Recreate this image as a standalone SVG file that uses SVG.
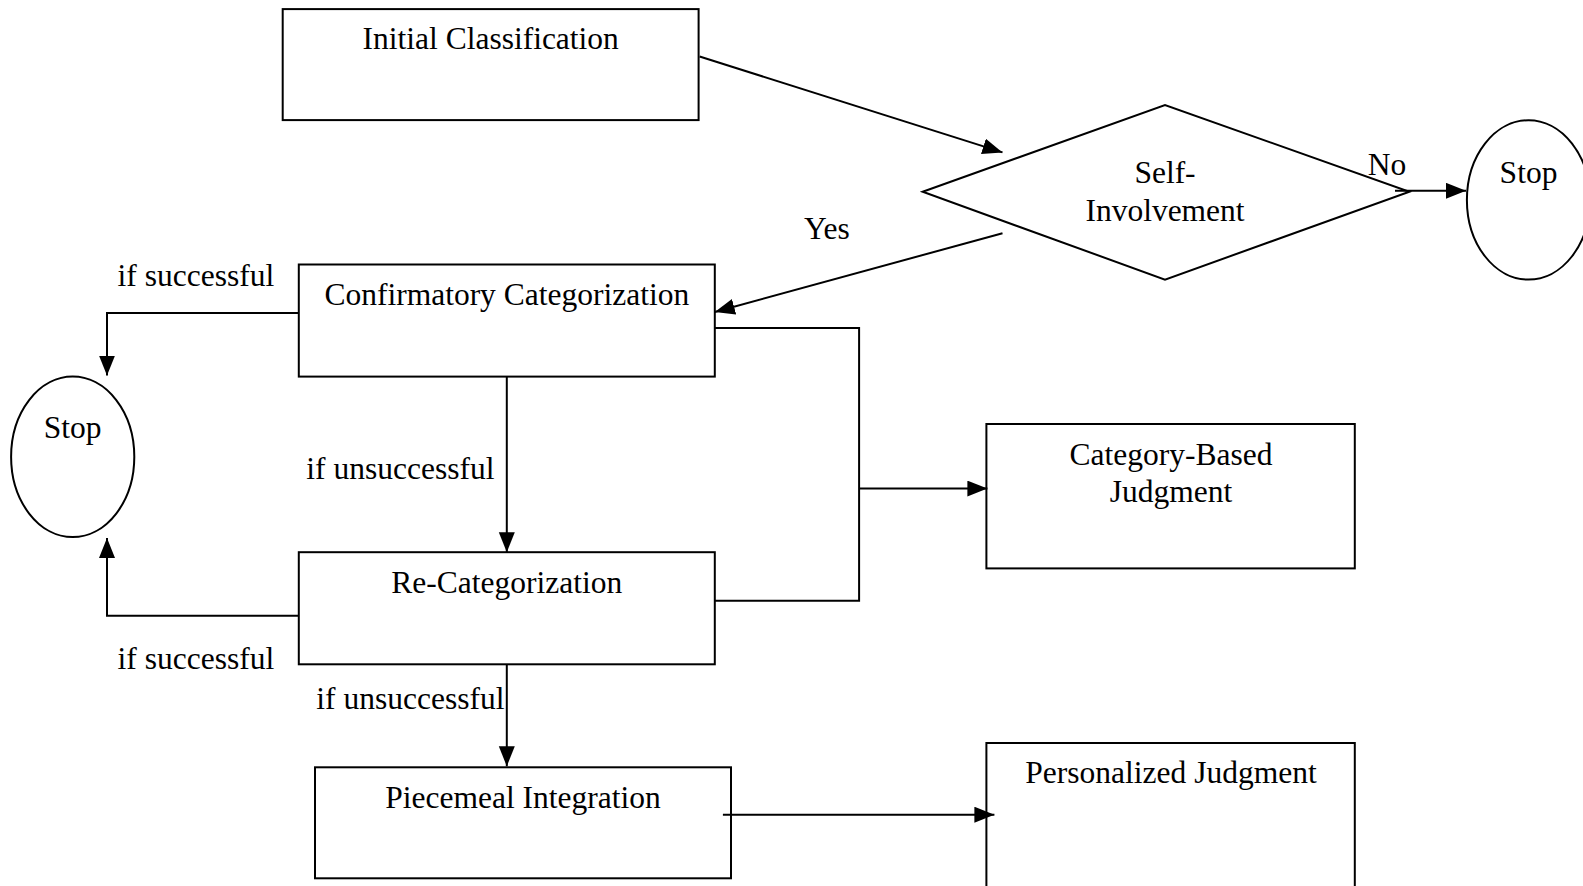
<svg xmlns="http://www.w3.org/2000/svg" width="1583" height="886" viewBox="0 0 1583 886">
<style>
.box{fill:#fff;stroke:#000;stroke-width:2}
.t{font-family:"Liberation Serif","Times New Roman",serif;font-size:31.5px;fill:#000;text-anchor:middle}
.c{fill:none;stroke:#000;stroke-width:2}
</style>
<defs>
<marker id="ah" markerUnits="userSpaceOnUse" markerWidth="21" markerHeight="17" refX="20" refY="8" orient="auto">
<path d="M0,0 L20,8 L0,16 z" fill="#000"/>
</marker>
</defs>
<rect width="1583" height="886" fill="#fff"/>
<g id="initial">
<rect class="box" x="282.7" y="9.1" width="415.9" height="111"/>
<text class="t" x="490.7" y="48.5">Initial Classification</text>
</g>
<g id="self-involvement">
<polygon class="box" points="922.7,191.8 1165,105 1409.4,191.8 1165,279.6"/>
<text class="t" x="1165" y="182.7">Self-</text>
<text class="t" x="1165" y="221">Involvement</text>
</g>
<g id="stop-right">
<ellipse class="box" cx="1528.5" cy="199.9" rx="61.6" ry="79.7"/>
<text class="t" x="1528.5" y="182.7">Stop</text>
</g>
<g id="confirmatory">
<rect class="box" x="298.8" y="264.5" width="416" height="112.1"/>
<text class="t" x="506.8" y="304.9">Confirmatory Categorization</text>
</g>
<g id="stop-left">
<ellipse class="box" cx="72.7" cy="456.8" rx="61.6" ry="80.3"/>
<text class="t" x="72.7" y="438">Stop</text>
</g>
<g id="recategorization">
<rect class="box" x="298.8" y="552.2" width="416" height="112.1"/>
<text class="t" x="506.8" y="592.6">Re-Categorization</text>
</g>
<g id="piecemeal">
<rect class="box" x="315" y="767.3" width="416" height="111"/>
<text class="t" x="523" y="807.6">Piecemeal Integration</text>
</g>
<g id="category-based">
<rect class="box" x="986.4" y="424" width="368.4" height="144.4"/>
<text class="t" x="1171" y="465.4">Category-Based</text>
<text class="t" x="1171" y="501.8">Judgment</text>
</g>
<g id="personalized">
<rect class="box" x="986.4" y="743" width="368.4" height="160"/>
<text class="t" x="1171" y="783.4">Personalized Judgment</text>
</g>
<g id="connectors">
<line class="c" x1="699.6" y1="56.5" x2="1002.5" y2="152.4" marker-end="url(#ah)"/>
<line class="c" x1="1395" y1="190.8" x2="1466" y2="190.8" marker-end="url(#ah)"/>
<line class="c" x1="1002.5" y1="233.2" x2="714.8" y2="312" marker-end="url(#ah)"/>
<polyline class="c" points="298.8,313 107,313 107,375.6" marker-end="url(#ah)"/>
<line class="c" x1="506.8" y1="376.6" x2="506.8" y2="552.2" marker-end="url(#ah)"/>
<polyline class="c" points="298.8,615.8 107,615.8 107,538" marker-end="url(#ah)"/>
<line class="c" x1="506.8" y1="664.3" x2="506.8" y2="766.3" marker-end="url(#ah)"/>
<line class="c" x1="722.9" y1="814.7" x2="994.4" y2="814.7" marker-end="url(#ah)"/>
<polyline class="c" points="714.8,328.1 859.1,328.1 859.1,600.7 714.8,600.7"/>
<line class="c" x1="859.1" y1="488.6" x2="987.4" y2="488.6" marker-end="url(#ah)"/>
<text class="t" x="1387" y="174.6">No</text>
<text class="t" x="826.8" y="239.3">Yes</text>
<text class="t" x="195.9" y="285.7">if successful</text>
<text class="t" x="400.4" y="478.5">if unsuccessful</text>
<text class="t" x="195.9" y="669.3">if successful</text>
<text class="t" x="410.4" y="708.7">if unsuccessful</text>
</g>
</svg>
